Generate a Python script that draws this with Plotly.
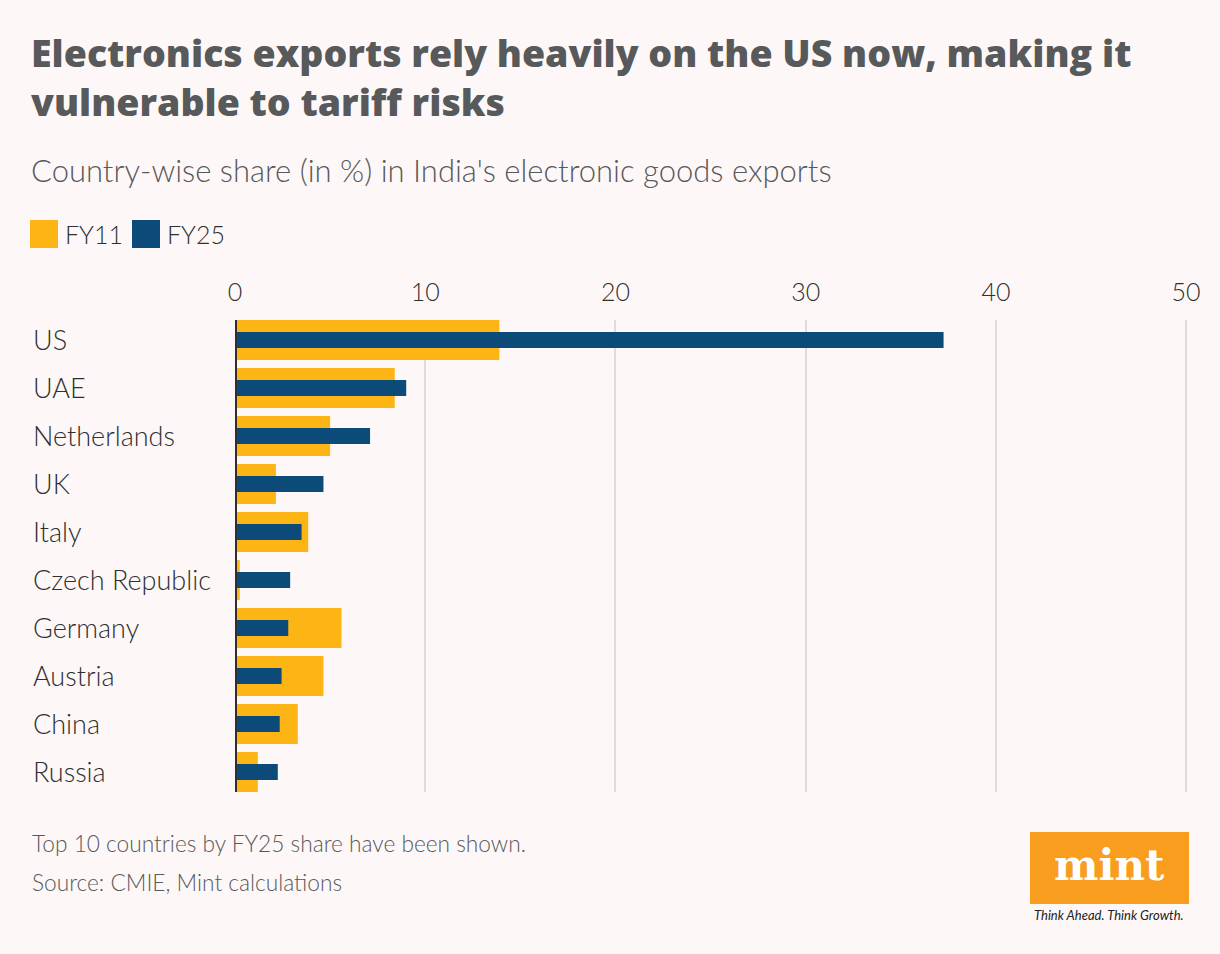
import plotly.graph_objects as go

countries = ["US", "UAE", "Netherlands", "UK", "Italy", "Czech Republic",
             "Germany", "Austria", "China", "Russia"]
fy11 = [13.9, 8.4, 5.0, 2.15, 3.85, 0.25, 5.6, 4.65, 3.3, 1.2]
fy25 = [37.25, 9.0, 7.1, 4.65, 3.5, 2.9, 2.8, 2.45, 2.35, 2.25]
x_ticks = [0, 10, 20, 30, 40, 50]

ORANGE = "#fdb515"
BLUE = "#0b4a79"
BG = "#fdf8f7"
TEXT = "#2f2f2f"
GREY = "#58595b"
FONT = "Lato"

W, H = 1220, 954
L, R, T, B = 235, 32, 320, 162

ypos = list(range(len(countries)))

fig = go.Figure()
fig.add_trace(go.Bar(y=ypos, x=fy11, orientation="h", name="FY11",
                     marker=dict(color=ORANGE, line=dict(width=0)),
                     width=40 / 48, showlegend=False))
fig.add_trace(go.Bar(y=ypos, x=fy25, orientation="h", name="FY25",
                     marker=dict(color=BLUE, line=dict(width=0)),
                     width=16 / 48, showlegend=False))

half = 20 / 48
fig.update_layout(
    width=W, height=H,
    margin=dict(l=L, r=R, t=T, b=B, pad=0),
    paper_bgcolor=BG, plot_bgcolor=BG,
    barmode="overlay",
    font=dict(family=FONT, color=TEXT),
    xaxis=dict(range=[0, 50.1], side="top", tickvals=x_ticks,
               ticktext=[str(v) for v in x_ticks],
               tickfont=dict(size=25, color=TEXT, family=FONT, weight=300),
               showgrid=True, gridcolor="#e0dcdb", gridwidth=2,
               zeroline=False, showline=False,
               ticks="outside", ticklen=8, tickcolor="rgba(0,0,0,0)"),
    yaxis=dict(range=[len(countries) - 1 + half, -half], showticklabels=False,
               showgrid=False, zeroline=False, showline=False, fixedrange=True),
)

# zero line (dark axis line)
fig.add_shape(type="line", xref="x", yref="paper", x0=0, x1=0, y0=0, y1=1,
              line=dict(color="#2f2f2f", width=4), layer="above")

pw = W - L - R
ph = H - T - B

def px(xp):
    return (xp - L) / pw

def py(yp):
    return (H - B - yp) / ph

# category labels, left aligned
for i, c in enumerate(countries):
    fig.add_annotation(x=px(31), xref="paper", y=i, yref="y", yshift=1, text=c,
                       showarrow=False, xanchor="left", yanchor="middle",
                       font=dict(size=27, color=TEXT, family=FONT, weight=300))

# title
fig.add_annotation(x=px(29), y=py(25), xref="paper", yref="paper",
                   xanchor="left", yanchor="top", align="left", showarrow=False,
                   text="Electronics exports rely heavily on the US now, making it<br>vulnerable to tariff risks",
                   font=dict(size=37.5, color=GREY, family="Open Sans", weight=800))
# subtitle
fig.add_annotation(x=px(29), y=py(170), xref="paper", yref="paper",
                   xanchor="left", yanchor="middle", showarrow=False,
                   text="Country-wise share (in %) in India's electronic goods exports",
                   font=dict(size=31, color=GREY, family=FONT, weight=300))

# legend (manual)
for name, col, x0 in [("FY11", ORANGE, 30), ("FY25", BLUE, 132)]:
    fig.add_shape(type="rect", xref="paper", yref="paper",
                  x0=px(x0), x1=px(x0 + 28), y0=py(248), y1=py(220),
                  fillcolor=col, line=dict(width=0))
    fig.add_annotation(x=px(x0 + 33), y=py(234), xref="paper", yref="paper",
                       xanchor="left", yanchor="middle", showarrow=False,
                       text=name, font=dict(size=25, color=TEXT, family=FONT, weight=300))

# footnotes
fig.add_annotation(x=px(30), y=py(843), xref="paper", yref="paper",
                   xanchor="left", yanchor="middle", showarrow=False,
                   text="Top 10 countries by FY25 share have been shown.",
                   font=dict(size=22.7, color=GREY, family=FONT, weight=300))
fig.add_annotation(x=px(30), y=py(882), xref="paper", yref="paper",
                   xanchor="left", yanchor="middle", showarrow=False,
                   text="Source: CMIE, Mint calculations",
                   font=dict(size=22.7, color=GREY, family=FONT, weight=300))

# logo
fig.add_shape(type="rect", xref="paper", yref="paper",
              x0=px(1030), x1=px(1189), y0=py(904), y1=py(832),
              fillcolor="#f99d1e", line=dict(width=0))
fig.add_annotation(x=px(1109), y=py(865), xref="paper", yref="paper",
                   xanchor="center", yanchor="middle", showarrow=False,
                   text="<b>mint</b>",
                   font=dict(size=42, color="white", family="DejaVu Serif"))
fig.add_annotation(x=px(1109), y=py(915), xref="paper", yref="paper",
                   xanchor="center", yanchor="middle", showarrow=False,
                   text="<i>Think Ahead. Think Growth.</i>",
                   font=dict(size=13, color="#222222", family=FONT))

fig.write_html("out.html")
